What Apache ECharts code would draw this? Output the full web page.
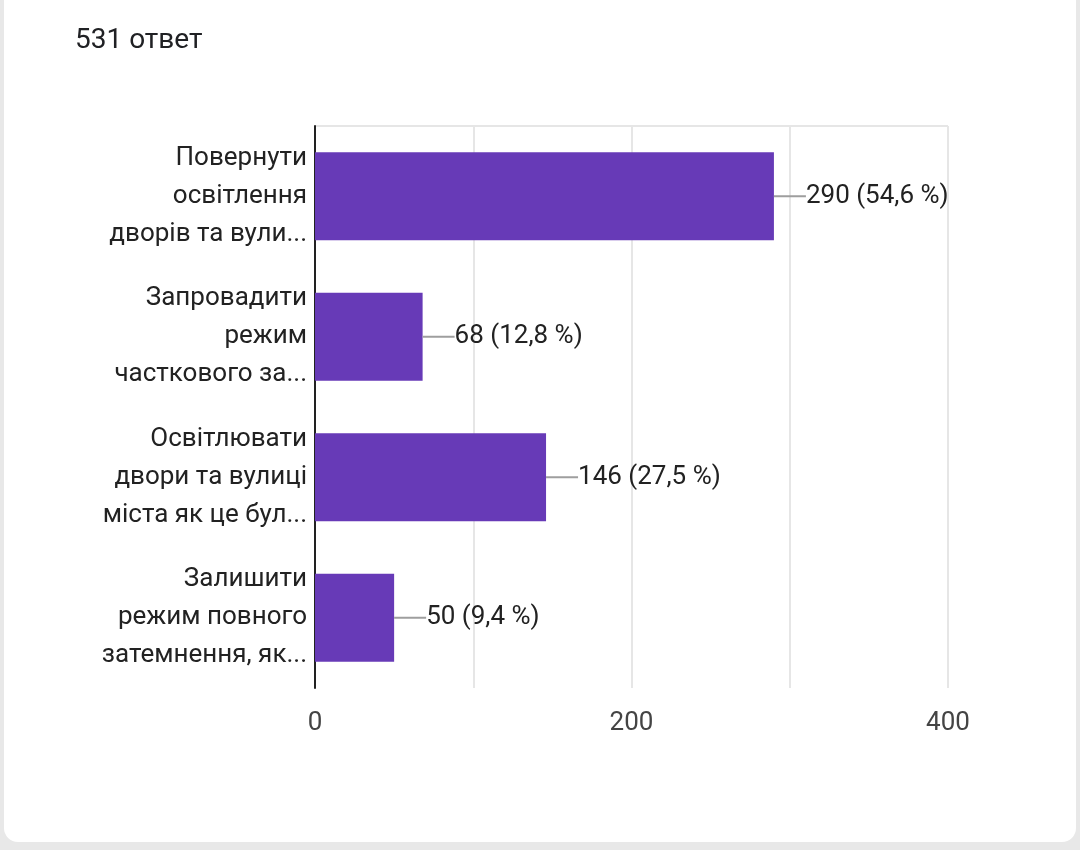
<!DOCTYPE html>
<html><head><meta charset="utf-8">
<script src="https://cdn.jsdelivr.net/npm/echarts@6/dist/echarts.min.js"></script>
<style>
html,body{margin:0;padding:0;background:#e8e8e8;}
#card{position:absolute;left:4px;top:0;width:1072px;height:842px;background:#fff;border-radius:0 0 14px 14px;}
#c{width:1080px;height:850px;position:absolute;left:-4px;top:0;}
</style></head>
<body><div id="card"><div id="c"></div></div>
<script>
var categories = ['Повернути\nосвітлення\nдворів та вули...','Запровадити\nрежим\nчасткового за...','Освітлювати\nдвори та вулиці\nміста як це бул...','Залишити\nрежим повного\nзатемнення, як...'];
var values = [290, 68, 146, 50];
var percents = ['54,6', '12,8', '27,5', '9,4'];
var xTicks = [0, 200, 400];

var chart = echarts.init(document.getElementById('c'));
chart.setOption({
  animation:false,
  title:{text:'531 ответ',left:70,top:22,textStyle:{fontFamily:'Roboto',fontSize:28,fontWeight:'normal',color:'#202124'}},
  grid:{left:315,right:132,top:126,bottom:162},
  xAxis:{type:'value',min:0,max:400,interval:100,
    axisLine:{show:false},axisTick:{show:false},
    splitLine:{lineStyle:{color:'#e6e6e6',width:2}},
    axisLabel:{margin:22,fontFamily:'Roboto',fontSize:26,color:'#444',
      formatter:function(v){return xTicks.indexOf(v)>=0?String(v):'';}}},
  yAxis:{type:'category',inverse:true,data:categories,
    axisLine:{lineStyle:{color:'#222',width:2}},axisTick:{show:false},
    splitLine:{show:false},
    axisLabel:{margin:8,fontFamily:'Roboto',fontSize:26,color:'#222',lineHeight:38,align:'right'}},
  series:[{type:'bar',data:values,barWidth:88,
    itemStyle:{color:'#673ab7'},
    label:{show:true,position:'right',distance:0,
      formatter:function(p){return '{l|}{t|'+p.value+' ('+percents[p.dataIndex]+' %)}';},
      rich:{l:{width:32,height:2,backgroundColor:'#9e9e9e'},
        t:{fontFamily:'Roboto',fontSize:26,color:'#222'}}}}],
  graphic:[{type:'line',shape:{x1:315,y1:126,x2:948,y2:126},style:{stroke:'#e6e6e6',lineWidth:2}}]
});
</script></body></html>
